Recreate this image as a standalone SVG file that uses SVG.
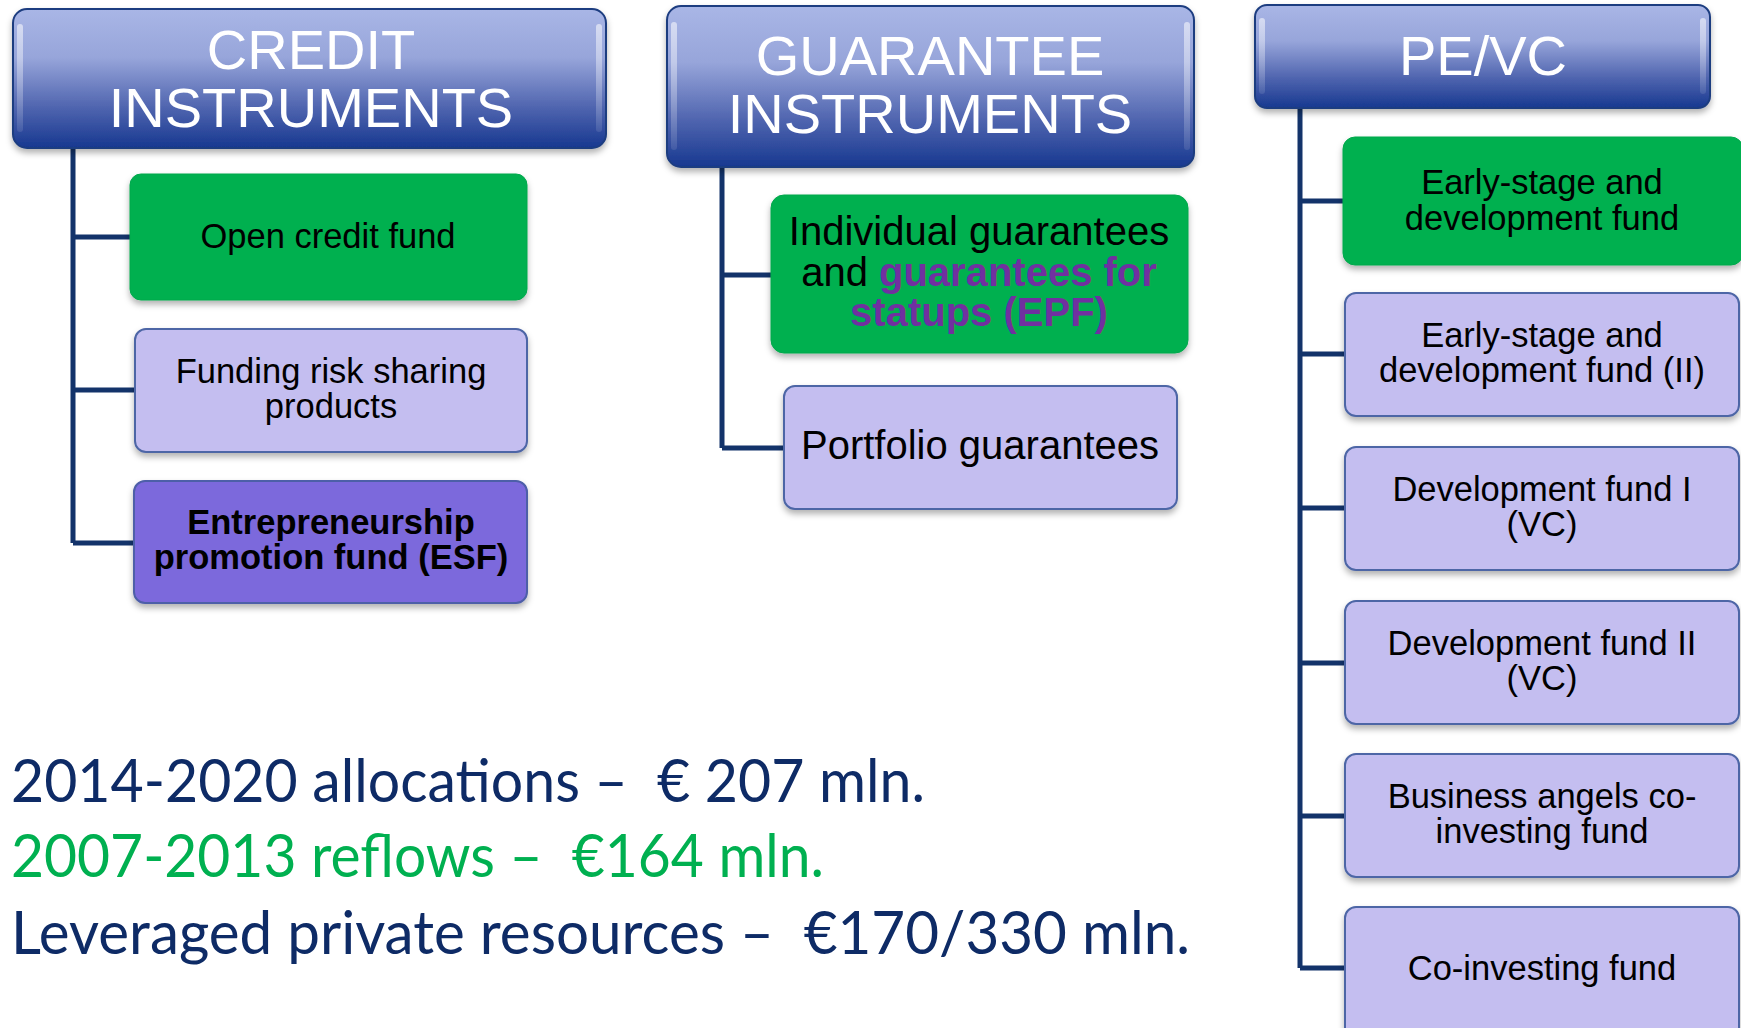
<svg xmlns="http://www.w3.org/2000/svg" width="1741" height="1028" viewBox="0 0 1741 1028">
<defs>
<linearGradient id="hdr" x1="0" y1="0" x2="0" y2="1">
<stop offset="0" stop-color="#A9B6E6"/>
<stop offset="0.35" stop-color="#97A5DA"/>
<stop offset="0.7" stop-color="#5166B0"/>
<stop offset="1" stop-color="#173890"/>
</linearGradient>
<linearGradient id="gloss" x1="0" y1="0" x2="0" y2="1">
<stop offset="0" stop-color="#FFFFFF" stop-opacity="0.55"/>
<stop offset="1" stop-color="#FFFFFF" stop-opacity="0.1"/>
</linearGradient>
<filter id="sh" x="-10%" y="-10%" width="120%" height="130%">
<feDropShadow dx="0" dy="4" stdDeviation="3" flood-color="#000" flood-opacity="0.3"/>
</filter>
</defs>
<style>
.hdr{fill:url(#hdr);stroke:#1E3D80;stroke-width:2;filter:url(#sh)}
.gl{fill:url(#gloss)}
.ht{font-family:"Liberation Sans",Arial,sans-serif;font-size:56px;fill:#FFFFFF;text-anchor:middle}
.green{fill:#00B050;stroke:#00A84C;stroke-width:1;filter:url(#sh)}
.lav{fill:#C4BEF0;stroke:#4E66A6;stroke-width:2;filter:url(#sh)}
.pur{fill:#7C69DC;stroke:#4E5EA8;stroke-width:2;filter:url(#sh)}
.t{font-family:"Liberation Sans",Arial,sans-serif;font-size:34.5px;fill:#000;text-anchor:middle}
.t40{font-family:"Liberation Sans",Arial,sans-serif;font-size:40px;fill:#000;text-anchor:middle}
.b{font-weight:bold}
.pt{fill:#7030A0;font-weight:bold}
.conn{fill:none;stroke:#13336A;stroke-width:5}
.sum{font-family:Lato,"Open Sans",sans-serif;font-size:60px;white-space:pre}
</style>

<g id="connectors">
<path class="conn" d="M73 148 V543 M73 237 H130 M73 390 H135 M73 543 H134"/>
<path class="conn" d="M722 167 V448 M722 275 H772 M722 448 H785"/>
<path class="conn" d="M1300 108 V968 M1300 201 H1343 M1300 354 H1345 M1300 508 H1345 M1300 663 H1345 M1300 816 H1345 M1300 968 H1345"/>
</g>

<g id="credit-header">
<rect class="hdr" x="13" y="9" width="593" height="139" rx="14"/>
<rect class="gl" x="17" y="24" width="6" height="108" rx="3"/>
<rect class="gl" x="596" y="24" width="6" height="108" rx="3"/>
<text class="ht" x="311" y="69">CREDIT</text>
<text class="ht" x="311" y="127">INSTRUMENTS</text>
</g>

<g id="open-credit-fund">
<rect class="green" x="130" y="174" width="397" height="126" rx="11"/>
<text class="t" x="328" y="248">Open credit fund</text>
</g>

<g id="funding-risk-sharing">
<rect class="lav" x="135" y="329" width="392" height="123" rx="11"/>
<text class="t" x="331" y="383">Funding risk sharing</text>
<text class="t" x="331" y="418">products</text>
</g>

<g id="esf">
<rect class="pur" x="134" y="481" width="393" height="122" rx="11"/>
<text class="t b" x="331" y="534">Entrepreneurship</text>
<text class="t b" x="331" y="569">promotion fund (ESF)</text>
</g>

<g id="guarantee-header">
<rect class="hdr" x="667" y="6" width="527" height="161" rx="14"/>
<rect class="gl" x="671" y="22" width="6" height="128" rx="3"/>
<rect class="gl" x="1184" y="22" width="6" height="128" rx="3"/>
<text class="ht" x="930" y="75">GUARANTEE</text>
<text class="ht" x="930" y="133">INSTRUMENTS</text>
</g>

<g id="individual-guarantees">
<rect class="green" x="771" y="195" width="417" height="158" rx="13"/>
<text class="t40" x="979" y="245">Individual guarantees</text>
<text class="t40" x="979" y="286">and <tspan class="pt">guarantees for</tspan></text>
<text class="t40 pt" x="979" y="326">statups (EPF)</text>
</g>

<g id="portfolio-guarantees">
<rect class="lav" x="784" y="386" width="393" height="123" rx="11"/>
<text class="t40" x="980" y="459">Portfolio guarantees</text>
</g>

<g id="pevc-header">
<rect class="hdr" x="1255" y="5" width="455" height="103" rx="12"/>
<rect class="gl" x="1259" y="18" width="6" height="76" rx="3"/>
<rect class="gl" x="1700" y="18" width="6" height="76" rx="3"/>
<text class="ht" x="1483" y="75">PE/VC</text>
</g>

<g id="early-stage-1">
<rect class="green" x="1343" y="137" width="400" height="128" rx="12"/>
<text class="t" x="1542" y="194">Early-stage and</text>
<text class="t" x="1542" y="230">development fund</text>
</g>

<g id="early-stage-2">
<rect class="lav" x="1345" y="293" width="394" height="123" rx="11"/>
<text class="t" x="1542" y="347">Early-stage and</text>
<text class="t" x="1542" y="382">development fund (II)</text>
</g>

<g id="development-fund-1">
<rect class="lav" x="1345" y="447" width="394" height="123" rx="11"/>
<text class="t" x="1542" y="501">Development fund I</text>
<text class="t" x="1542" y="536">(VC)</text>
</g>

<g id="development-fund-2">
<rect class="lav" x="1345" y="601" width="394" height="123" rx="11"/>
<text class="t" x="1542" y="655">Development fund II</text>
<text class="t" x="1542" y="690">(VC)</text>
</g>

<g id="business-angels">
<rect class="lav" x="1345" y="754" width="394" height="123" rx="11"/>
<text class="t" x="1542" y="808">Business angels co-</text>
<text class="t" x="1542" y="843">investing fund</text>
</g>

<g id="co-investing">
<rect class="lav" x="1345" y="907" width="394" height="140" rx="11"/>
<text class="t" x="1542" y="980">Co-investing fund</text>
</g>

<g id="summary">
<text class="sum" x="11" y="802" fill="#0E2B66" textLength="914" lengthAdjust="spacingAndGlyphs">2014-2020 allocations –  € 207 mln.</text>
<text class="sum" x="11" y="877" fill="#00B050" textLength="813" lengthAdjust="spacingAndGlyphs">2007-2013 reflows –  €164 mln.</text>
<text class="sum" x="11" y="954" fill="#0E2B66" textLength="1179" lengthAdjust="spacingAndGlyphs">Leveraged private resources –  €170/330 mln.</text>
</g>
</svg>
